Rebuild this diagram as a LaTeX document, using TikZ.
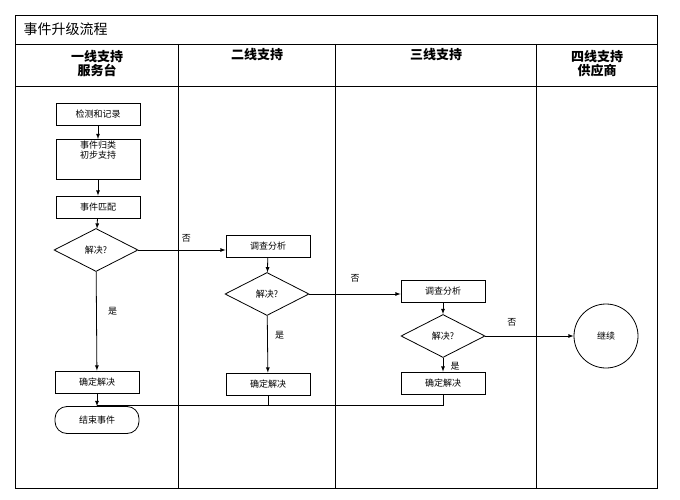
\documentclass[tikz,border=0pt]{standalone}
\usepackage{fontspec}
\setmainfont{Noto Sans CJK SC}
\usetikzlibrary{shapes.geometric}
\tikzset{
  procbox/.style={draw, thick, minimum width=84pt, minimum height=22pt, inner sep=1pt, font=\fontsize{9}{10}\selectfont},
  decide/.style={draw, thick, diamond, aspect=2, minimum width=84pt, minimum height=43pt, inner sep=0pt, font=\fontsize{9}{10}\selectfont},
  flow/.style={-latex, thick},
  note/.style={font=\fontsize{9}{10}\selectfont},
  lane/.style={align=center, font=\bfseries\fontsize{13}{14}\selectfont}
}
\begin{document}
\begin{tikzpicture}[x=1pt,y=-1pt]
  \useasboundingbox (0,0) rectangle (680,500);
  % Frame and lanes
  \draw[thick] (15,15) rectangle (657,488);
  \draw[thick] (15,44) -- (657,44);
  \draw[thick] (15,86) -- (657,86);
  \foreach \x in {178,335,536}
    \draw[thick] (\x,44) -- (\x,488);
  \node[anchor=west, font=\fontsize{14}{16}\selectfont] (title) at (20,29) {事件升级流程};
  \node[lane] (lane1) at (97,64) {一线支持\\服务台};
  \node[lane] (lane2) at (257,55) {二线支持};
  \node[lane] (lane3) at (436,55) {三线支持};
  \node[lane] (lane4) at (597,64) {四线支持\\供应商};

  % First line
  \node[procbox] (detect) at (98,114) {检测和记录};
  \node[procbox, minimum height=40pt, align=center, anchor=north] (classify) at (98,139) {事件归类\\初步支持\\[10pt]};
  \node[procbox] (match) at (98,207) {事件匹配};
  \node[decide] (ok1) at (96,250) {解决?};
  \node[procbox] (done1) at (97,382) {确定解决};
  \node[procbox, rounded corners=12pt, minimum height=27pt] (finish) at (97,420) {结束事件};

  % Second line
  \node[procbox] (study2) at (268,246) {调查分析};
  \node[decide] (ok2) at (267,294) {解决?};
  \node[procbox] (done2) at (268,384) {确定解决};

  % Third line
  \node[procbox] (study3) at (443,291) {调查分析};
  \node[decide] (ok3) at (443,336) {解决?};
  \node[procbox] (done3) at (443,383) {确定解决};

  % Fourth line
  \node[draw, thick, circle, minimum size=64pt, font=\fontsize{9}{10}\selectfont] (goon) at (606,336) {继续};

  % Connectors
  \draw[flow] (detect) -- (classify);
  \draw[flow] (classify) -- (match);
  \draw[flow] (match) -- (ok1);
  \draw[flow] (ok1) -- (done1) node[note, pos=0.4, right=8pt] {是};
  \draw[flow] (ok1.east) -- (study2.west |- ok1.east) node[note, pos=0.55, above=4pt] {否};
  \draw[flow] (study2) -- (ok2);
  \draw[flow] (ok2) -- (done2) node[note, pos=0.35, right=4pt] {是};
  \draw[flow] (ok2.east) -- (study3.west |- ok2.east) node[note, pos=0.5, above=8pt] {否};
  \draw[flow] (study3) -- (ok3);
  \draw[flow] (ok3) -- (done3) node[note, pos=0.6, right=4pt] {是};
  \draw[flow] (ok3.east) -- (goon.west) node[note, pos=0.3, above=6pt] {否};
  \coordinate (join) at (done3.south |- 0,405);
  \draw[thick] (done3.south) -- (join) -- (join -| done1.south);
  \draw[thick] (done2.south) -- (done2.south |- join);
  \draw[flow] (done1.south) -- (finish.north);
\end{tikzpicture}
\end{document}
